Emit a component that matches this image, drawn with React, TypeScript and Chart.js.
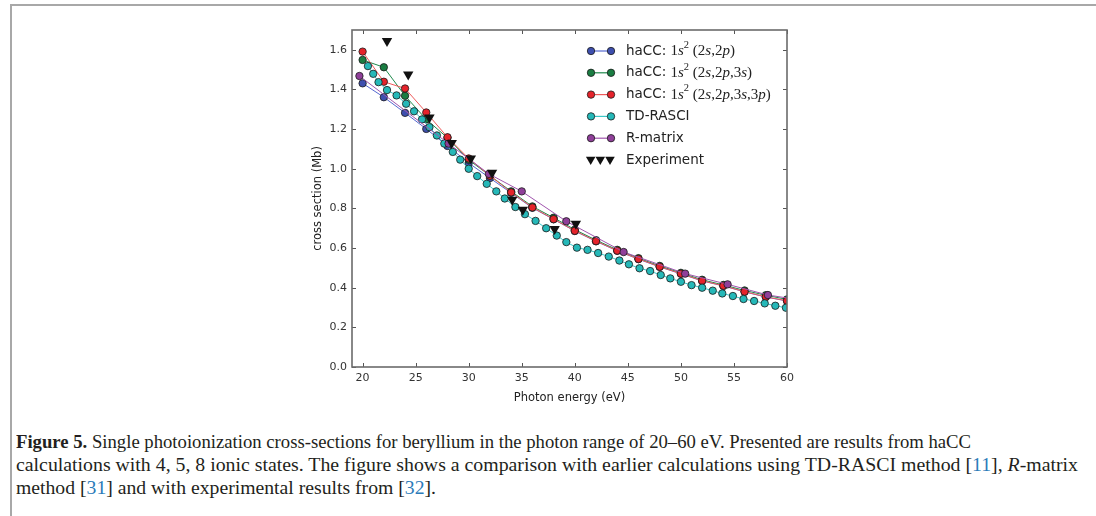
import React, { useEffect, useRef } from "react";
import { Chart, registerables } from "chart.js";
Chart.register(...registerables);

// ---- data ----
const haccEnergies = [20, 22, 24, 26, 28, 30, 32, 34, 36, 38, 40, 42, 44, 46, 48, 50, 52, 54, 56, 58, 60];
const hacc4States = [1.431, 1.361, 1.282, 1.201, 1.115, 1.029, 0.953, 0.878, 0.803, 0.745, 0.686, 0.634, 0.586, 0.544, 0.505, 0.470, 0.434, 0.409, 0.379, 0.353, 0.333];
const hacc5States = [1.549, 1.512, 1.368, 1.249, 1.156, 1.045, 0.965, 0.886, 0.810, 0.753, 0.693, 0.640, 0.591, 0.549, 0.510, 0.475, 0.440, 0.414, 0.386, 0.362, 0.341];
const hacc8States = [1.591, 1.439, 1.405, 1.284, 1.159, 1.052, 0.965, 0.881, 0.805, 0.746, 0.687, 0.635, 0.587, 0.545, 0.506, 0.471, 0.435, 0.410, 0.380, 0.354, 0.334];

const rasciEnergies = [20.5, 21.0, 21.5, 22.3, 23.2, 24.1, 24.85, 25.6, 26.3, 27.0, 27.7, 28.5, 29.2, 30.0, 30.8, 31.7, 32.6, 33.4, 34.4, 35.3, 36.3, 37.3, 38.3, 39.2, 40.2, 41.2, 42.2, 43.2, 44.2, 45.1, 46.1, 47.1, 48.1, 49.0, 50.0, 51.0, 52.0, 53.0, 53.9, 54.9, 55.9, 56.9, 57.9, 58.9, 59.9];
const rasciValues = [1.518, 1.479, 1.437, 1.397, 1.370, 1.328, 1.290, 1.249, 1.210, 1.168, 1.127, 1.085, 1.046, 1.000, 0.963, 0.924, 0.886, 0.850, 0.807, 0.771, 0.737, 0.700, 0.663, 0.630, 0.602, 0.591, 0.575, 0.557, 0.537, 0.518, 0.498, 0.484, 0.464, 0.447, 0.430, 0.413, 0.400, 0.385, 0.371, 0.358, 0.343, 0.333, 0.321, 0.309, 0.299];

const rmatrixEnergies = [19.7, 28.1, 31.9, 35.0, 39.2, 44.6, 50.4, 54.4, 58.2, 62.5];
const rmatrixValues = [1.468, 1.127, 0.974, 0.886, 0.735, 0.580, 0.471, 0.417, 0.363, 0.328];

const expEnergies = [22.3, 24.3, 26.3, 28.4, 30.2, 32.2, 34.1, 35.1, 38.1, 40.1];
const expValues = [1.645, 1.476, 1.258, 1.130, 1.052, 0.980, 0.844, 0.793, 0.696, 0.722];

const xTicks = [20, 25, 30, 35, 40, 45, 50, 55, 60];
const yTicks = [0.0, 0.2, 0.4, 0.6, 0.8, 1.0, 1.2, 1.4, 1.6];

const seriesNames = ["haCC", "haCC", "haCC", "TD-RASCI", "R-matrix", "Experiment"];

// ---- styles ----
const C = {
  blue: { m: "#3e4fae", l: "#5468d0" },
  green: { m: "#1a7d42", l: "#1f8a4c" },
  red: { m: "#e5232b", l: "#ee5a5a" },
  cyan: { m: "#25b8b8", l: "#3cc8c8" },
  purple: { m: "#8f3f99", l: "#a055ad" },
};

const pts = (xs: number[], ys: number[]) => xs.map((x, i) => ({ x, y: ys[i] }));

const SANS = "'DejaVu Sans', sans-serif";
const SERIF = "'Liberation Serif', serif";

type Part = [string, string, number?];

function drawParts(ctx: CanvasRenderingContext2D, x: number, y: number, parts: Part[]) {
  let cx = x;
  for (const [t, f, dy] of parts) {
    ctx.font = f;
    ctx.fillText(t, cx, y + (dy || 0));
    cx += ctx.measureText(t).width;
  }
}

const sansF = `13.5px ${SANS}`;
const serF = `15px ${SERIF}`;
const serI = `italic 15px ${SERIF}`;
const serS = `10.5px ${SERIF}`;

const legendLabels: Part[][] = [
  [["haCC: ", sansF], ["1", serF], ["s", serI], ["2", serS, -6], [" (2", serF], ["s", serI], [",2", serF], ["p", serI], [")", serF]],
  [["haCC: ", sansF], ["1", serF], ["s", serI], ["2", serS, -6], [" (2", serF], ["s", serI], [",2", serF], ["p", serI], [",3", serF], ["s", serI], [")", serF]],
  [["haCC: ", sansF], ["1", serF], ["s", serI], ["2", serS, -6], [" (2", serF], ["s", serI], [",2", serF], ["p", serI], [",3", serF], ["s", serI], [",3", serF], ["p", serI], [")", serF]],
  [[seriesNames[3], sansF]],
  [[seriesNames[4], sansF]],
  [[seriesNames[5], sansF]],
];
const legendColors = [C.blue, C.green, C.red, C.cyan, C.purple];

function circle(ctx: CanvasRenderingContext2D, x: number, y: number, fill: string) {
  ctx.beginPath();
  ctx.arc(x, y, 3.7, 0, Math.PI * 2);
  ctx.fillStyle = fill;
  ctx.fill();
  ctx.lineWidth = 0.8;
  ctx.strokeStyle = "#1a1a1a";
  ctx.stroke();
}

function triDown(ctx: CanvasRenderingContext2D, x: number, y: number) {
  const r = 5.5;
  ctx.beginPath();
  ctx.moveTo(x - r * 0.866, y - r * 0.6);
  ctx.lineTo(x + r * 0.866, y - r * 0.6);
  ctx.lineTo(x, y + r * 0.9);
  ctx.closePath();
  ctx.fillStyle = "#111";
  ctx.fill();
}

const framePlugin = {
  id: "frameAndLegend",
  afterDatasetsDraw(chart: any) {
    const { ctx, chartArea: a, scales } = chart;
    const xs = scales.x;
    const ys = scales.y;
    ctx.save();
    // inward ticks
    ctx.strokeStyle = "#555";
    ctx.lineWidth = 1;
    const tl = 4;
    ctx.beginPath();
    for (const v of xTicks) {
      const px = Math.round(xs.getPixelForValue(v)) + 0.5;
      ctx.moveTo(px, a.bottom);
      ctx.lineTo(px, a.bottom - tl);
      ctx.moveTo(px, a.top);
      ctx.lineTo(px, a.top + tl);
    }
    for (const v of yTicks) {
      const py = Math.round(ys.getPixelForValue(v)) + 0.5;
      ctx.moveTo(a.left, py);
      ctx.lineTo(a.left + tl, py);
      ctx.moveTo(a.right, py);
      ctx.lineTo(a.right - tl, py);
    }
    ctx.stroke();
    // frame
    ctx.strokeStyle = "#6b6b6b";
    ctx.lineWidth = 1.6;
    ctx.strokeRect(a.left, a.top, a.right - a.left, a.bottom - a.top);

    // axis titles
    ctx.fillStyle = "#222";
    ctx.font = `11.5px ${SANS}`;
    ctx.textAlign = "center";
    ctx.textBaseline = "middle";
    ctx.fillText("Photon energy (eV)", (a.left + a.right) / 2, 398);
    ctx.save();
    ctx.translate(318, (a.top + a.bottom) / 2);
    ctx.rotate(-Math.PI / 2);
    ctx.fillText("cross section (Mb)", 0, 0);
    ctx.restore();

    // legend
    const lx0 = 591;
    const lx1 = 611;
    const tx = 626;
    ctx.textAlign = "left";
    ctx.textBaseline = "middle";
    for (let i = 0; i < 6; i++) {
      const y = 51 + i * 21.8;
      if (i < 5) {
        const col = legendColors[i];
        ctx.strokeStyle = col.l;
        ctx.lineWidth = 1.2;
        ctx.beginPath();
        ctx.moveTo(lx0, y);
        ctx.lineTo(lx1, y);
        ctx.stroke();
        circle(ctx, lx0, y, col.m);
        circle(ctx, lx1, y, col.m);
      } else {
        triDown(ctx, 590.7, y);
        triDown(ctx, 600.3, y);
        triDown(ctx, 610, y);
      }
      ctx.fillStyle = "#222";
      drawParts(ctx, tx, y, legendLabels[i]);
    }
    ctx.restore();
  },
};

function lineDs(label: string, data: any[], col: { m: string; l: string }, order: number) {
  return {
    label,
    data,
    order,
    showLine: true,
    borderColor: col.l,
    borderWidth: 1,
    backgroundColor: col.m,
    pointBackgroundColor: col.m,
    pointBorderColor: "#1a1a1a",
    pointBorderWidth: 0.8,
    pointRadius: 3.7,
    pointStyle: "circle",
    tension: 0,
  };
}

const captionTargets = [955, 1062, 420];

export default function App() {
  const ref = useRef<HTMLCanvasElement>(null);
  const l1 = useRef<HTMLSpanElement>(null);
  const l2 = useRef<HTMLSpanElement>(null);
  const l3 = useRef<HTMLSpanElement>(null);

  useEffect(() => {
    [l1, l2, l3].forEach((r, i) => {
      const el = r.current;
      if (!el) return;
      el.style.transform = "none";
      const w = el.getBoundingClientRect().width;
      if (w > 0) el.style.transform = `scaleX(${captionTargets[i] / w})`;
    });

    const chart = new Chart(ref.current as HTMLCanvasElement, {
      type: "scatter",
      data: {
        datasets: [
          lineDs("haCC 4", pts(haccEnergies, hacc4States), C.blue, 6),
          lineDs("haCC 5", pts(haccEnergies, hacc5States), C.green, 5),
          lineDs("haCC 8", pts(haccEnergies, hacc8States), C.red, 4),
          lineDs(seriesNames[3], pts(rasciEnergies, rasciValues), C.cyan, 3),
          lineDs(seriesNames[4], pts(rmatrixEnergies, rmatrixValues), C.purple, 2),
          {
            label: seriesNames[5],
            data: pts(expEnergies, expValues),
            order: 1,
            showLine: false,
            pointStyle: "triangle",
            rotation: 180,
            pointRadius: 6,
            pointBackgroundColor: "#111",
            pointBorderColor: "#111",
            pointBorderWidth: 0,
            backgroundColor: "#111",
          } as any,
        ] as any,
      },
      options: {
        animation: false,
        responsive: false,
        events: [],
        layout: { padding: { left: 312, right: 309, top: 30, bottom: 23 } },
        plugins: { legend: { display: false }, tooltip: { enabled: false } },
        scales: {
          x: {
            type: "linear",
            min: 19,
            max: 60,
            grid: { display: false, drawTicks: false },
            border: { display: false },
            afterBuildTicks: (s: any) => {
              s.ticks = xTicks.map((v) => ({ value: v }));
            },
            afterFit: (s: any) => {
              s.height = 30;
            },
            ticks: {
              font: { family: SANS, size: 11 },
              color: "#333",
              padding: 5,
              maxRotation: 0,
              autoSkip: false,
              callback: (v: any) => String(v),
            },
          },
          y: {
            type: "linear",
            min: 0,
            max: 1.7,
            grid: { display: false, drawTicks: false },
            border: { display: false },
            afterBuildTicks: (s: any) => {
              s.ticks = yTicks.map((v) => ({ value: v }));
            },
            afterFit: (s: any) => {
              s.width = 40;
            },
            ticks: {
              font: { family: SANS, size: 11 },
              color: "#333",
              padding: 5,
              autoSkip: false,
              callback: (v: any) => Number(v).toFixed(1),
            },
          },
        },
      } as any,
      plugins: [framePlugin],
    });
    return () => chart.destroy();
  }, []);

  const cite = { color: "#2b7bb9" };
  const lineStyle: React.CSSProperties = {
    position: "absolute",
    left: 16,
    display: "inline-block",
    whiteSpace: "nowrap",
    transformOrigin: "0 50%",
    lineHeight: "23px",
  };
  return (
    <div style={{ position: "absolute", left: 0, top: 0, width: 1096, height: 516, background: "#fff", overflow: "hidden" }}>
      <div style={{ position: "absolute", left: 10, top: 4, width: 1100, height: 520, borderLeft: "2px solid #a8a8a8", borderTop: "2px solid #a8a8a8" }} />
      <canvas ref={ref} width={1096} height={420} style={{ position: "absolute", left: 0, top: 0, width: 1096, height: 420, display: "block" }} />
      <div style={{ position: "absolute", left: 0, top: 0, fontFamily: SERIF, fontSize: 19, color: "#231f20" }}>
        <span ref={l1} style={{ ...lineStyle, top: 430 }}>
          <b>Figure 5.</b> Single photoionization cross-sections for beryllium in the photon range of 20–60 eV. Presented are results from haCC
        </span>
        <span ref={l2} style={{ ...lineStyle, top: 453 }}>
          calculations with 4, 5, 8 ionic states. The figure shows a comparison with earlier calculations using TD-RASCI method [<span style={cite}>11</span>], <i>R</i>-matrix
        </span>
        <span ref={l3} style={{ ...lineStyle, top: 476 }}>
          method [<span style={cite}>31</span>] and with experimental results from [<span style={cite}>32</span>].
        </span>
      </div>
    </div>
  );
}
